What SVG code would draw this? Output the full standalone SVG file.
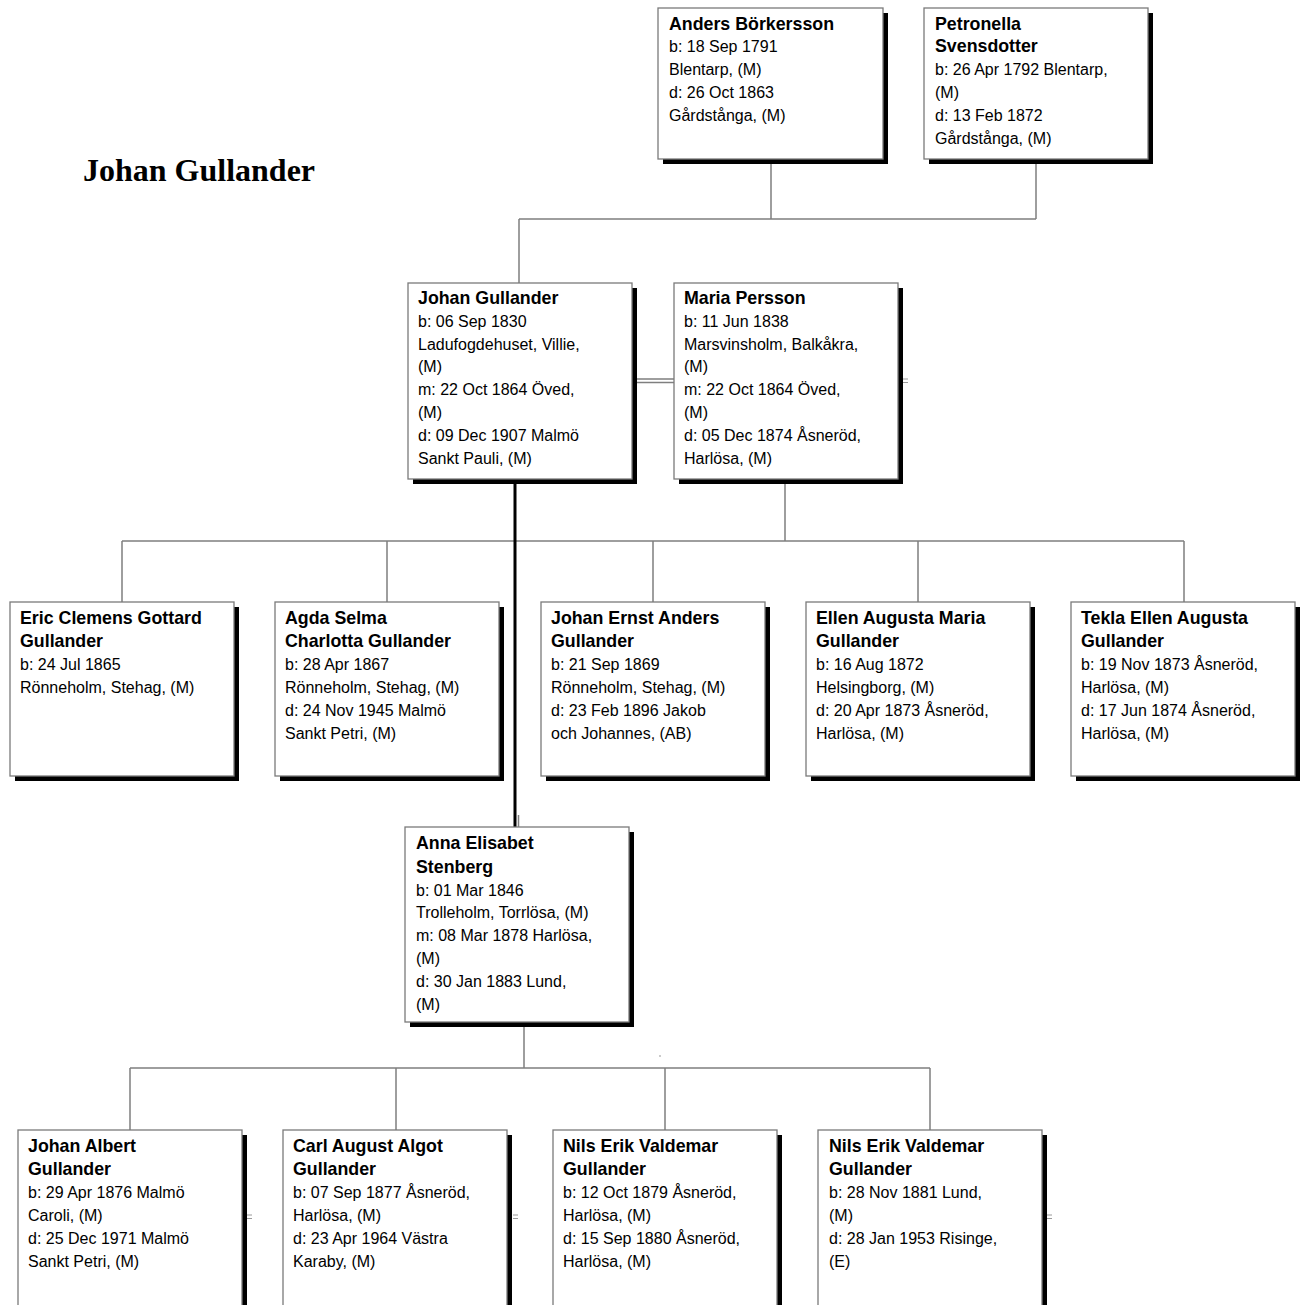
<svg xmlns="http://www.w3.org/2000/svg" width="1301" height="1305" viewBox="0 0 1301 1305">
<style>
.bg{fill:#ffffff}
.shadow{fill:#000000}
.box{fill:#ffffff;stroke:#7a7a7a;stroke-width:1.3}
.conn{fill:none;stroke:#7f7f7f;stroke-width:1.5}
.thick{fill:none;stroke:#000000;stroke-width:3}
.tick{fill:none;stroke:#9a9a9a;stroke-width:1}
.nm{font-family:"Liberation Sans",Arial,sans-serif;font-weight:bold;font-size:17.8px;fill:#000}
.dt{font-family:"Liberation Sans",Arial,sans-serif;font-size:16px;fill:#000}
.title{font-family:"Liberation Serif","Times New Roman",serif;font-weight:bold;font-size:32px;fill:#000}
</style>
<rect class="bg" x="0" y="0" width="1301" height="1305"/>
<text class="title" x="83" y="181">Johan Gullander</text>

<g id="connectors">
  <path class="conn" d="M771,164 V219 M1036,164 V219 M519,219 H1036 M519,219 V283"/>
  <path class="conn" d="M637,379 H674 M637,382.5 H674"/>
  <path class="tick" d="M903,379 H908 M903,382.5 H908"/>
  <path class="conn" d="M785,484 V541 M122,541 H1184 M122,541 V602 M387,541 V602 M653,541 V602 M918,541 V602 M1184,541 V602"/>
  <path class="thick" d="M515,479 V827"/>
  <path class="conn" d="M518.5,815 V827"/>
  <path class="conn" d="M524,1027 V1068 M130,1068 H930 M130,1068 V1130 M396,1068 V1130 M665,1068 V1130 M930,1068 V1130"/>
  <path class="tick" d="M247,1215 H252 M247,1218.5 H252 M513,1215 H518 M513,1218.5 H518 M1047,1215 H1052 M1047,1218.5 H1052"/>
  <circle cx="660" cy="1056" r="0.8" fill="#888"/>
</g>

<g id="n-anders">
  <rect class="shadow" x="663" y="13" width="225" height="151"/>
  <rect class="box" x="658" y="8" width="225" height="151"/>
  <text class="nm" x="669" y="29.5">Anders Börkersson</text>
  <text class="dt"><tspan x="669" y="52.4">b: 18 Sep 1791</tspan><tspan x="669" y="75.3">Blentarp, (M)</tspan><tspan x="669" y="98.2">d: 26 Oct 1863</tspan><tspan x="669" y="121.1">Gårdstånga, (M)</tspan></text>
</g>

<g id="n-petronella">
  <rect class="shadow" x="929" y="13" width="224" height="151"/>
  <rect class="box" x="924" y="8" width="224" height="151"/>
  <text class="nm"><tspan x="935" y="29.5">Petronella</tspan><tspan x="935" y="52.4">Svensdotter</tspan></text>
  <text class="dt"><tspan x="935" y="75.3">b: 26 Apr 1792 Blentarp,</tspan><tspan x="935" y="98.2">(M)</tspan><tspan x="935" y="121.1">d: 13 Feb 1872</tspan><tspan x="935" y="144">Gårdstånga, (M)</tspan></text>
</g>

<g id="n-johan">
  <rect class="shadow" x="413" y="288" width="224" height="196"/>
  <rect class="box" x="408" y="283" width="224" height="196"/>
  <text class="nm" x="418" y="304">Johan Gullander</text>
  <text class="dt"><tspan x="418" y="326.8">b: 06 Sep 1830</tspan><tspan x="418" y="349.6">Ladufogdehuset, Villie,</tspan><tspan x="418" y="372.4">(M)</tspan><tspan x="418" y="395.2">m: 22 Oct 1864 Öved,</tspan><tspan x="418" y="418">(M)</tspan><tspan x="418" y="440.8">d: 09 Dec 1907 Malmö</tspan><tspan x="418" y="463.6">Sankt Pauli, (M)</tspan></text>
</g>

<g id="n-maria">
  <rect class="shadow" x="679" y="288" width="224" height="196"/>
  <rect class="box" x="674" y="283" width="224" height="196"/>
  <text class="nm" x="684" y="304">Maria Persson</text>
  <text class="dt"><tspan x="684" y="326.8">b: 11 Jun 1838</tspan><tspan x="684" y="349.6">Marsvinsholm, Balkåkra,</tspan><tspan x="684" y="372.4">(M)</tspan><tspan x="684" y="395.2">m: 22 Oct 1864 Öved,</tspan><tspan x="684" y="418">(M)</tspan><tspan x="684" y="440.8">d: 05 Dec 1874 Åsneröd,</tspan><tspan x="684" y="463.6">Harlösa, (M)</tspan></text>
</g>

<g id="n-eric">
  <rect class="shadow" x="15" y="607" width="224" height="174"/>
  <rect class="box" x="10" y="602" width="224" height="174"/>
  <text class="nm"><tspan x="20" y="623.5">Eric Clemens Gottard</tspan><tspan x="20" y="647">Gullander</tspan></text>
  <text class="dt"><tspan x="20" y="670">b: 24 Jul 1865</tspan><tspan x="20" y="693">Rönneholm, Stehag, (M)</tspan></text>
</g>

<g id="n-agda">
  <rect class="shadow" x="280" y="607" width="224" height="174"/>
  <rect class="box" x="275" y="602" width="224" height="174"/>
  <text class="nm"><tspan x="285" y="623.5">Agda Selma</tspan><tspan x="285" y="647">Charlotta Gullander</tspan></text>
  <text class="dt"><tspan x="285" y="670">b: 28 Apr 1867</tspan><tspan x="285" y="693">Rönneholm, Stehag, (M)</tspan><tspan x="285" y="716">d: 24 Nov 1945 Malmö</tspan><tspan x="285" y="739">Sankt Petri, (M)</tspan></text>
</g>

<g id="n-johanernst">
  <rect class="shadow" x="546" y="607" width="224" height="174"/>
  <rect class="box" x="541" y="602" width="224" height="174"/>
  <text class="nm"><tspan x="551" y="623.5">Johan Ernst Anders</tspan><tspan x="551" y="647">Gullander</tspan></text>
  <text class="dt"><tspan x="551" y="670">b: 21 Sep 1869</tspan><tspan x="551" y="693">Rönneholm, Stehag, (M)</tspan><tspan x="551" y="716">d: 23 Feb 1896 Jakob</tspan><tspan x="551" y="739">och Johannes, (AB)</tspan></text>
</g>

<g id="n-ellen">
  <rect class="shadow" x="811" y="607" width="224" height="174"/>
  <rect class="box" x="806" y="602" width="224" height="174"/>
  <text class="nm"><tspan x="816" y="623.5">Ellen Augusta Maria</tspan><tspan x="816" y="647">Gullander</tspan></text>
  <text class="dt"><tspan x="816" y="670">b: 16 Aug 1872</tspan><tspan x="816" y="693">Helsingborg, (M)</tspan><tspan x="816" y="716">d: 20 Apr 1873 Åsneröd,</tspan><tspan x="816" y="739">Harlösa, (M)</tspan></text>
</g>

<g id="n-tekla">
  <rect class="shadow" x="1076" y="607" width="224" height="174"/>
  <rect class="box" x="1071" y="602" width="224" height="174"/>
  <text class="nm"><tspan x="1081" y="623.5">Tekla Ellen Augusta</tspan><tspan x="1081" y="647">Gullander</tspan></text>
  <text class="dt"><tspan x="1081" y="670">b: 19 Nov 1873 Åsneröd,</tspan><tspan x="1081" y="693">Harlösa, (M)</tspan><tspan x="1081" y="716">d: 17 Jun 1874 Åsneröd,</tspan><tspan x="1081" y="739">Harlösa, (M)</tspan></text>
</g>

<g id="n-anna">
  <rect class="shadow" x="410" y="832" width="224" height="195"/>
  <rect class="box" x="405" y="827" width="224" height="195"/>
  <text class="nm"><tspan x="416" y="849">Anna Elisabet</tspan><tspan x="416" y="872.5">Stenberg</tspan></text>
  <text class="dt"><tspan x="416" y="895.5">b: 01 Mar 1846</tspan><tspan x="416" y="918.3">Trolleholm, Torrlösa, (M)</tspan><tspan x="416" y="941.1">m: 08 Mar 1878 Harlösa,</tspan><tspan x="416" y="963.9">(M)</tspan><tspan x="416" y="986.7">d: 30 Jan 1883 Lund,</tspan><tspan x="416" y="1009.5">(M)</tspan></text>
</g>

<g id="n-johanalbert">
  <rect class="shadow" x="23" y="1135" width="224" height="200"/>
  <rect class="box" x="18" y="1130" width="224" height="200"/>
  <text class="nm"><tspan x="28" y="1151.5">Johan Albert</tspan><tspan x="28" y="1175">Gullander</tspan></text>
  <text class="dt"><tspan x="28" y="1198">b: 29 Apr 1876 Malmö</tspan><tspan x="28" y="1221">Caroli, (M)</tspan><tspan x="28" y="1244">d: 25 Dec 1971 Malmö</tspan><tspan x="28" y="1267">Sankt Petri, (M)</tspan></text>
</g>

<g id="n-carl">
  <rect class="shadow" x="288" y="1135" width="224" height="200"/>
  <rect class="box" x="283" y="1130" width="224" height="200"/>
  <text class="nm"><tspan x="293" y="1151.5">Carl August Algot</tspan><tspan x="293" y="1175">Gullander</tspan></text>
  <text class="dt"><tspan x="293" y="1198">b: 07 Sep 1877 Åsneröd,</tspan><tspan x="293" y="1221">Harlösa, (M)</tspan><tspan x="293" y="1244">d: 23 Apr 1964 Västra</tspan><tspan x="293" y="1267">Karaby, (M)</tspan></text>
</g>

<g id="n-nils1">
  <rect class="shadow" x="558" y="1135" width="224" height="200"/>
  <rect class="box" x="553" y="1130" width="224" height="200"/>
  <text class="nm"><tspan x="563" y="1151.5">Nils Erik Valdemar</tspan><tspan x="563" y="1175">Gullander</tspan></text>
  <text class="dt"><tspan x="563" y="1198">b: 12 Oct 1879 Åsneröd,</tspan><tspan x="563" y="1221">Harlösa, (M)</tspan><tspan x="563" y="1244">d: 15 Sep 1880 Åsneröd,</tspan><tspan x="563" y="1267">Harlösa, (M)</tspan></text>
</g>

<g id="n-nils2">
  <rect class="shadow" x="823" y="1135" width="224" height="200"/>
  <rect class="box" x="818" y="1130" width="224" height="200"/>
  <text class="nm"><tspan x="829" y="1151.5">Nils Erik Valdemar</tspan><tspan x="829" y="1175">Gullander</tspan></text>
  <text class="dt"><tspan x="829" y="1198">b: 28 Nov 1881 Lund,</tspan><tspan x="829" y="1221">(M)</tspan><tspan x="829" y="1244">d: 28 Jan 1953 Risinge,</tspan><tspan x="829" y="1267">(E)</tspan></text>
</g>
</svg>
